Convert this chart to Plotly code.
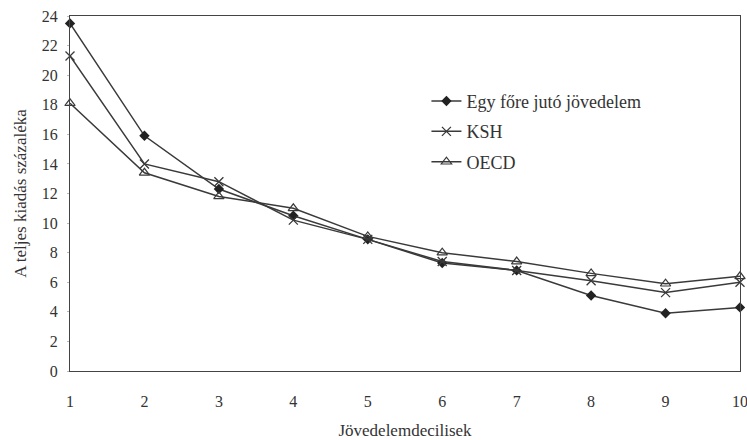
import plotly.graph_objects as go

deciles = [1, 2, 3, 4, 5, 6, 7, 8, 9, 10]
egy_fore = [23.5, 15.9, 12.3, 10.5, 8.9, 7.3, 6.8, 5.1, 3.9, 4.3]
ksh = [21.3, 14.0, 12.8, 10.2, 8.9, 7.4, 6.8, 6.1, 5.3, 6.0]
oecd = [18.1, 13.4, 11.8, 11.0, 9.1, 8.0, 7.4, 6.6, 5.9, 6.4]
names = ["Egy főre jutó jövedelem", "KSH", "OECD"]
y_ticks = [0, 2, 4, 6, 8, 10, 12, 14, 16, 18, 20, 22, 24]

FONT = "Liberation Serif"
LINE = "#3a3a3a"

fig = go.Figure()
fig.add_trace(go.Scatter(x=deciles, y=egy_fore, name=names[0], mode="lines+markers",
                         line=dict(color=LINE, width=1.5), legendgroup="a",
                         marker=dict(symbol="diamond", size=8, color="#222"), cliponaxis=False))
fig.add_trace(go.Scatter(x=deciles, y=ksh, name=names[1], mode="lines+markers",
                         line=dict(color=LINE, width=1.5), legendgroup="b",
                         marker=dict(symbol="x-thin-open", size=9, color=LINE,
                                     line=dict(color=LINE, width=1.3)), cliponaxis=False))
fig.add_trace(go.Scatter(x=deciles, y=oecd, name=names[2], mode="lines+markers",
                         line=dict(color=LINE, width=1.5), legendgroup="c",
                         marker=dict(symbol="triangle-up-open", size=9, color=LINE,
                                     line=dict(color=LINE, width=1.2)), cliponaxis=False))

fig.update_layout(
    width=747, height=440,
    margin=dict(l=70, r=7, t=16, b=69),
    paper_bgcolor="white", plot_bgcolor="white",
    font=dict(family=FONT, size=16, color="#333"),
    showlegend=True,
    legend=dict(x=0.532, y=0.812, xanchor="left", yanchor="top",
                bgcolor="rgba(0,0,0,0)", tracegroupgap=4,
                font=dict(family=FONT, size=18, color="#333")),
    xaxis=dict(range=[1, 10], tickvals=deciles, showgrid=False, zeroline=False,
               showline=True, linecolor="#444", linewidth=1.2, mirror=True,
               ticks="", ticklabelstandoff=16, automargin=False, ticklabeloverflow="allow",
               title=dict(text="Jövedelemdecilisek", font=dict(family=FONT, size=17), standoff=14)),
    yaxis=dict(range=[0, 24], tickvals=y_ticks, showgrid=False, zeroline=False,
               showline=True, linecolor="#444", linewidth=1.2, mirror=True,
               ticks="outside", ticklen=2, tickcolor="#bbb", ticklabelstandoff=6, automargin=False,
               ticklabeloverflow="allow",
               title=dict(text="A teljes kiadás százaléka", font=dict(family=FONT, size=17), standoff=10)),
)

# remove the default page margin so the figure fills the window exactly
fig.write_html("out.html", config={"displayModeBar": False},
               post_script="document.body.style.margin='0';")
